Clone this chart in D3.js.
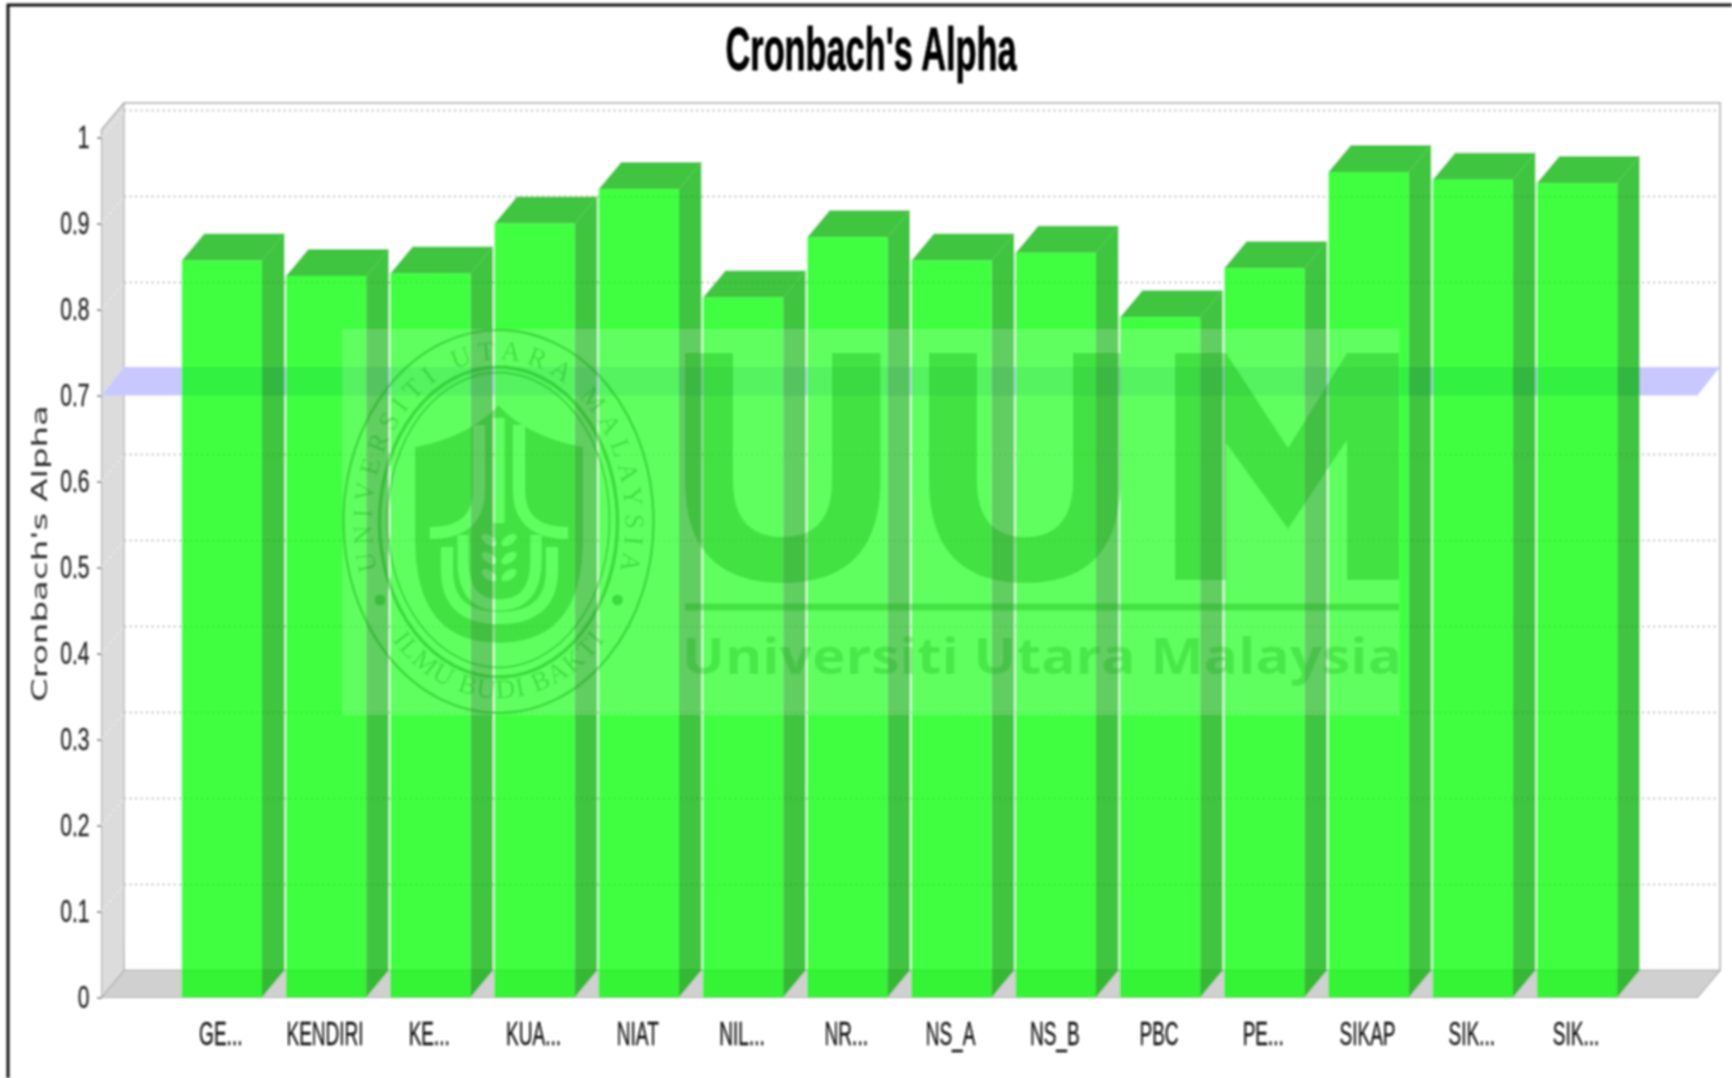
<!DOCTYPE html>
<html>
<head>
<meta charset="utf-8">
<title>Cronbach's Alpha</title>
<script src="https://cdn.jsdelivr.net/npm/d3@7"></script>
<style>
    html, body { margin: 0; padding: 0; background: #fff; }
    svg { display: block; }
</style>
</head>
<body>
<div id="chart"></div>
<script>
// Chart data
const categories = ['GE...', 'KENDIRI', 'KE...', 'KUA...', 'NIAT', 'NIL...', 'NR...', 'NS_A', 'NS_B', 'PBC', 'PE...', 'SIKAP', 'SIK...', 'SIK... '];
const alphaValues = [0.857, 0.839, 0.842, 0.900, 0.940, 0.814, 0.884, 0.857, 0.866, 0.791, 0.848, 0.960, 0.951, 0.947];
const yTicks = [0, 0.1, 0.2, 0.3, 0.4, 0.5, 0.6, 0.7, 0.8, 0.9, 1];
const markerValue = 0.7;

const width = 1732, height = 1078;
const depthX = 22.5, depthY = 27;

const svg = d3.select('#chart').append('svg')
    .attr('width', width)
    .attr('height', height);

// The reference is a soft upscaled screenshot
const defs = svg.append('defs');
defs.append('filter').attr('id', 'soft')
    .append('feGaussianBlur').attr('stdDeviation', 0.8);

const root = svg.append('g').attr('filter', 'url(#soft)');

const x = d3.scaleBand()
    .domain(categories)
    .range([181.6, 1617.2])
    .paddingInner(0.229);

const y = d3.scaleLinear()
    .domain([0, 1])
    .range([997.5, 137.5]);

const plotLeft = 101.6, plotRight = 1697.5;
const plotTop = 130;
const floorY = y(0);

// Turn a list of points into a closed polygon path
const poly = points => 'M' + points.map(p => p.join(',')).join('L') + 'Z';

// Outer frame, only top and left are in shot
root.append('path')
    .attr('d', 'M8,' + height + 'L8,5L' + width + ',5')
    .attr('fill', 'none')
    .attr('stroke', '#111')
    .attr('stroke-width', 3);

// Walls and floor of the 3D plot
root.append('path')
    .attr('d', poly([[plotLeft, plotTop], [plotLeft + depthX, plotTop - depthY], [plotRight + depthX, plotTop - depthY], [plotRight + depthX, floorY - depthY], [plotLeft + depthX, floorY - depthY]]))
    .attr('fill', '#fff')
    .attr('stroke', '#bdbdbd')
    .attr('stroke-width', 2);

root.append('path')
    .attr('d', poly([[plotLeft, plotTop], [plotLeft + depthX, plotTop - depthY], [plotLeft + depthX, floorY - depthY], [plotLeft, floorY]]))
    .attr('fill', '#dcdcdc')
    .attr('stroke', '#b4b4b4')
    .attr('stroke-width', 1.2);

root.append('path')
    .attr('d', poly([[plotLeft, floorY], [plotLeft + depthX, floorY - depthY], [plotRight + depthX, floorY - depthY], [plotRight, floorY]]))
    .attr('fill', '#d0d0d0')
    .attr('stroke', '#b4b4b4')
    .attr('stroke-width', 1.2);

// Gridlines
const gridTicks = yTicks.filter(d => d > 0);

root.selectAll('.wall-grid')
    .data(gridTicks)
    .enter()
    .append('line')
    .attr('class', 'wall-grid')
    .attr('x1', plotLeft)
    .attr('x2', plotLeft + depthX)
    .attr('y1', d => y(d))
    .attr('y2', d => y(d) - depthY)
    .attr('stroke', '#ececec')
    .attr('stroke-width', 1.4)
    .attr('stroke-dasharray', '3 3');

root.selectAll('.back-grid')
    .data(gridTicks)
    .enter()
    .append('line')
    .attr('class', 'back-grid')
    .attr('x1', plotLeft + depthX)
    .attr('x2', plotRight + depthX)
    .attr('y1', d => y(d) - depthY)
    .attr('y2', d => y(d) - depthY)
    .attr('stroke', '#bcbcbc')
    .attr('stroke-width', 2)
    .attr('stroke-dasharray', '2 3.5');

// Marker band at 0.7
root.append('path')
    .attr('d', poly([[plotLeft, y(markerValue)], [plotLeft + depthX, y(markerValue) - depthY - 1.5], [plotRight + depthX, y(markerValue) - depthY - 1.5], [plotRight, y(markerValue)]]))
    .attr('fill', '#c8c8ff');

// Bars: side, top, front
const bars = categories.map((name, i) => ({ name: name, value: alphaValues[i] }));

root.selectAll('.bar-side')
    .data(bars)
    .enter()
    .append('path')
    .attr('class', 'bar-side')
    .attr('d', d => {
        const right = x(d.name) + x.bandwidth();
        return poly([[right, y(d.value)], [right + depthX, y(d.value) - depthY], [right + depthX, floorY - depthY], [right, floorY]]);
    })
    .attr('fill', '#00b200')
    .attr('fill-opacity', 0.75);

root.selectAll('.bar-top')
    .data(bars)
    .enter()
    .append('path')
    .attr('class', 'bar-top')
    .attr('d', d => {
        const left = x(d.name), right = left + x.bandwidth();
        return poly([[left, y(d.value)], [left + depthX, y(d.value) - depthY], [right + depthX, y(d.value) - depthY], [right, y(d.value)]]);
    })
    .attr('fill', '#00b200')
    .attr('fill-opacity', 0.75);

root.selectAll('.bar-front')
    .data(bars)
    .enter()
    .append('rect')
    .attr('class', 'bar-front')
    .attr('x', d => x(d.name))
    .attr('y', d => y(d.value))
    .attr('width', x.bandwidth())
    .attr('height', d => floorY - y(d.value))
    .attr('fill', '#00ff00')
    .attr('fill-opacity', 0.75);

// Axes
const yAxis = root.append('g')
    .attr('transform', 'translate(' + plotLeft + ',0)')
    .call(d3.axisLeft(y).tickValues(yTicks).tickFormat(d => d).tickSize(4.5).tickPadding(0));

yAxis.select('.domain').remove();
yAxis.selectAll('.tick line').attr('stroke', '#666').attr('stroke-width', 1.4);
yAxis.selectAll('.tick text')
    .attr('x', 0)
    .attr('dy', null)
    .attr('y', 10)
    .attr('text-anchor', 'end')
    .attr('transform', 'translate(-12,0) scale(0.66,1)')
    .attr('font-family', '"Liberation Sans", Arial, sans-serif')
    .attr('font-size', 32)
    .attr('stroke', '#222')
    .attr('stroke-width', 0.3)
    .attr('fill', '#222');

const xAxis = root.append('g')
    .attr('transform', 'translate(0,' + floorY + ')')
    .call(d3.axisBottom(x).tickSize(0).tickPadding(0));

xAxis.select('.domain').remove();
xAxis.selectAll('.tick text')
    .attr('y', 0)
    .attr('dy', null)
    .attr('text-anchor', 'middle')
    .attr('transform', 'translate(-1,47.5) scale(0.56,1)')
    .attr('font-family', '"Liberation Sans", Arial, sans-serif')
    .attr('font-size', 34)
    .attr('stroke', '#111')
    .attr('stroke-width', 0.3)
    .attr('fill', '#111')
    .text(d => d.trim());

// Titles
root.append('text')
    .attr('x', 871)
    .attr('y', 69.5)
    .attr('text-anchor', 'middle')
    .attr('textLength', 291)
    .attr('lengthAdjust', 'spacingAndGlyphs')
    .attr('font-family', '"Liberation Sans", Arial, sans-serif')
    .attr('font-weight', 'bold')
    .attr('font-size', 62)
    .attr('stroke', '#000')
    .attr('stroke-width', 0.8)
    .attr('fill', '#000')
    .text("Cronbach's Alpha");

root.append('text')
    .attr('transform', 'translate(47,553.5) rotate(-90)')
    .attr('text-anchor', 'middle')
    .attr('textLength', 297)
    .attr('lengthAdjust', 'spacingAndGlyphs')
    .attr('font-family', '"DejaVu Sans", sans-serif')
    .attr('font-size', 22)
    .attr('fill', '#333')
    .text("Cronbach's Alpha");

// UUM watermark laid over the plot
const mark = root.append('g');

mark.append('rect')
    .attr('x', 342.5)
    .attr('y', 329)
    .attr('width', 1057)
    .attr('height', 386)
    .attr('fill', '#fff')
    .attr('fill-opacity', 0.17);

const markInk = '#00a000';

// Big letters and rule
const letterPaths = [
    'M685,353H733V480Q733,537 783,537Q832,537 832,480V353H880.5V480Q880.5,583 783,583Q685,583 685,480Z',
    'M929,353H977V480Q977,537 1025,537Q1073,537 1073,480V353H1120.5V480Q1120.5,583 1025,583Q929,583 929,480Z',
    'M1175,353H1226L1288,448L1347,353H1399V580H1347V440L1288,529L1226,443V580H1175Z',
    'M685,603.5H1399V610.5H685Z'
];

mark.selectAll('.letter')
    .data(letterPaths)
    .enter()
    .append('path')
    .attr('class', 'letter')
    .attr('d', d => d)
    .attr('fill', markInk)
    .attr('fill-opacity', 0.3);

mark.append('text')
    .attr('x', 682)
    .attr('y', 674)
    .attr('textLength', 720)
    .attr('lengthAdjust', 'spacingAndGlyphs')
    .attr('font-family', '"Open Sans", "DejaVu Sans", sans-serif')
    .attr('font-weight', 'bold')
    .attr('font-size', 50)
    .attr('fill', markInk)
    .attr('fill-opacity', 0.24)
    .text('Universiti Utara Malaysia');

// Seal rings
const rings = [
    { cy: 521.5, rx: 155, ry: 191.5, w: 2.6 },
    { cy: 522, rx: 119, ry: 155, w: 3.6 },
    { cy: 520, rx: 111, ry: 147.5, w: 2 }
];

mark.selectAll('.ring')
    .data(rings)
    .enter()
    .append('ellipse')
    .attr('class', 'ring')
    .attr('cx', 498.5)
    .attr('cy', d => d.cy)
    .attr('rx', d => d.rx)
    .attr('ry', d => d.ry)
    .attr('fill', 'none')
    .attr('stroke', markInk)
    .attr('stroke-width', d => d.w)
    .attr('stroke-opacity', 0.38);

mark.selectAll('.seal-dot')
    .data([380, 617.5])
    .enter()
    .append('circle')
    .attr('class', 'seal-dot')
    .attr('cx', d => d)
    .attr('cy', 600)
    .attr('r', 5.5)
    .attr('fill', markInk)
    .attr('fill-opacity', 0.38);

// Lettering that follows the seal
defs.append('path').attr('id', 'seal-top').attr('d', 'M377,570A127,163 0 1 1 620,570');
defs.append('path').attr('id', 'seal-bottom').attr('d', 'M392,640A145,181 0 0 0 605,640');

const sealTexts = [
    { href: '#seal-top', text: 'UNIVERSITI UTARA MALAYSIA' },
    { href: '#seal-bottom', text: 'ILMU BUDI BAKTI' }
];

sealTexts.forEach(item => {
    const length = document.querySelector(item.href).getTotalLength();
    mark.append('text')
        .attr('font-family', '"Liberation Serif", serif')
        .attr('font-size', 27)
        .attr('fill', markInk)
        .attr('fill-opacity', 0.32)
        .append('textPath')
        .attr('href', item.href)
        .attr('textLength', length)
        .text(item.text);
});

// Shield with the tree and wheat cut out of it
const shieldMask = defs.append('mask')
    .attr('id', 'shield-cut')
    .attr('maskUnits', 'userSpaceOnUse')
    .attr('x', 0)
    .attr('y', 0)
    .attr('width', width)
    .attr('height', height);

const shieldPath = 'M415,447Q470,436 498.5,405Q527,436 583,447V540Q583,643 498.5,643Q415,643 415,540Z';
shieldMask.append('path').attr('d', shieldPath).attr('fill', '#fff');

const cutStrokes = [
    { d: 'M499,418V523', w: 11 },
    { d: 'M479,425V490Q479,533 430,533', w: 12 },
    { d: 'M519,425V490Q519,533 568,533', w: 12 },
    { d: 'M447,547V570Q447,618 499,618Q552,618 552,570V547', w: 12 },
    { d: 'M463,535V560Q463,605 499,605Q536,605 536,560V535', w: 11 }
];

shieldMask.selectAll('.cut')
    .data(cutStrokes)
    .enter()
    .append('path')
    .attr('class', 'cut')
    .attr('d', d => d.d)
    .attr('fill', 'none')
    .attr('stroke', '#000')
    .attr('stroke-width', d => d.w);

const wheat = [
    { x: 489, y: 540, a: 35 }, { x: 489, y: 558, a: 35 }, { x: 489, y: 575, a: 35 },
    { x: 509, y: 540, a: -35 }, { x: 509, y: 558, a: -35 }, { x: 509, y: 575, a: -35 }
];

shieldMask.selectAll('.leaf')
    .data(wheat)
    .enter()
    .append('ellipse')
    .attr('class', 'leaf')
    .attr('rx', 8.5)
    .attr('ry', 4.5)
    .attr('transform', d => 'translate(' + d.x + ',' + d.y + ') rotate(' + d.a + ')')
    .attr('fill', '#000');

mark.append('path')
    .attr('d', shieldPath)
    .attr('fill', markInk)
    .attr('fill-opacity', 0.3)
    .attr('mask', 'url(#shield-cut)');
</script>
</body>
</html>
